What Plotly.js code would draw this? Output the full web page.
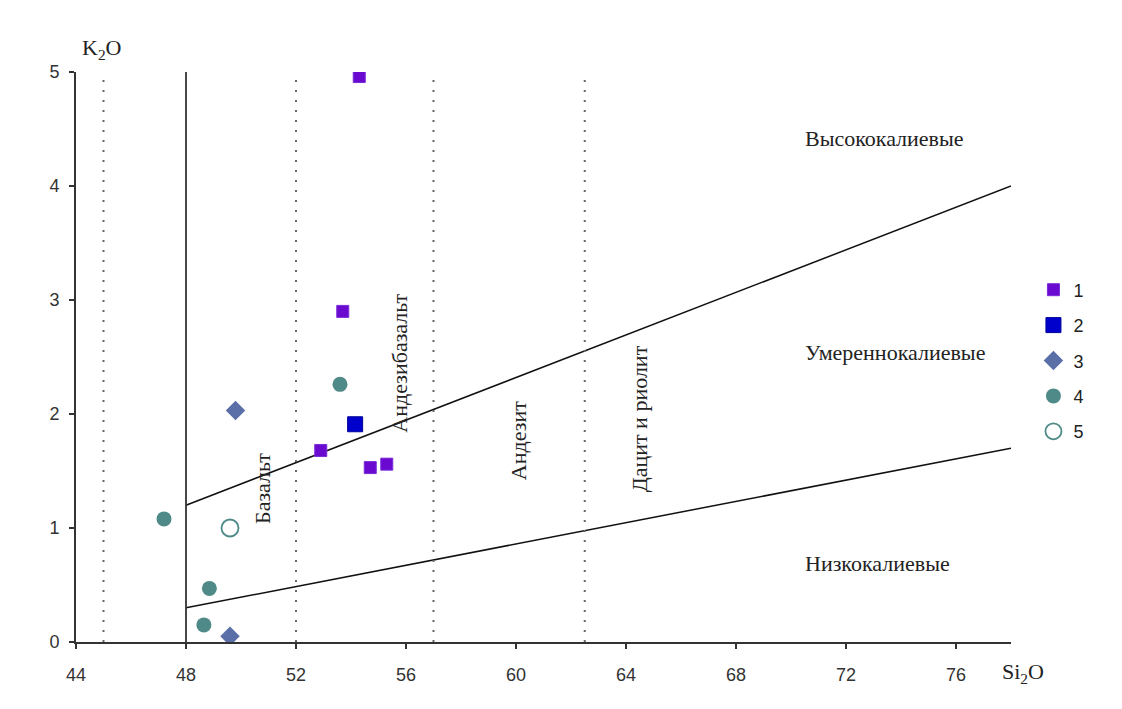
<!DOCTYPE html>
<html>
<head>
<meta charset="utf-8">
<script src="https://cdn.plot.ly/plotly-3.0.1.min.js"></script>
<style>html,body{margin:0;padding:0;background:#fff;}#chart{width:1122px;height:709px;}</style>
</head>
<body>
<div id="chart"></div>
<script>
// Series data (SiO2, K2O)
const s1x = [54.3, 53.7, 52.9, 54.7, 55.3];
const s1y = [4.96, 2.9, 1.68, 1.53, 1.56];
const s2x = [54.15];
const s2y = [1.91];
const s3x = [49.8, 49.6];
const s3y = [2.03, 0.05];
const s4x = [53.6, 47.2, 48.85, 48.65];
const s4y = [2.26, 1.08, 0.47, 0.15];
const s5x = [49.6];
const s5y = [1.0];
const seriesNames = ['1', '2', '3', '4', '5'];

// Field boundaries
const upperLineX = [48, 78];
const upperLineY = [1.2, 4.0];
const lowerLineX = [48, 78];
const lowerLineY = [0.3, 1.7];
const basaltLimit = 48;
const dottedLimits = [45, 52, 57, 62.5];
const yTop = 5;

const xTicks = [44, 48, 52, 56, 60, 64, 68, 72, 76];
const yTicks = [0, 1, 2, 3, 4, 5];

const serif = 'Liberation Serif, Times New Roman, serif';
const sans = 'Liberation Sans, Arial, sans-serif';

const traces = [];
traces.push({x: upperLineX, y: upperLineY, mode: 'lines', line: {color: '#111', width: 1.5}, showlegend: false, hoverinfo: 'skip'});
traces.push({x: lowerLineX, y: lowerLineY, mode: 'lines', line: {color: '#111', width: 1.5}, showlegend: false, hoverinfo: 'skip'});
traces.push({x: [basaltLimit, basaltLimit], y: [0, yTop], mode: 'lines', line: {color: '#333', width: 1.8}, showlegend: false, hoverinfo: 'skip'});
dottedLimits.forEach(v => {
  traces.push({x: [v, v], y: [0, yTop], mode: 'lines', line: {color: '#666', width: 2, dash: '2px,8px'}, showlegend: false, hoverinfo: 'skip'});
});

traces.push({x: s1x, y: s1y, name: seriesNames[0], mode: 'markers', legendgroup: 'g1',
  marker: {symbol: 'square', size: 12, color: '#6A0AD0', line: {color: '#7B2BD8', width: 1}}});
traces.push({x: s2x, y: s2y, name: seriesNames[1], mode: 'markers', legendgroup: 'g2',
  marker: {symbol: 'square', size: 15, color: '#0000CC', line: {color: '#00009A', width: 1}}});
traces.push({x: s3x, y: s3y, name: seriesNames[2], mode: 'markers', legendgroup: 'g3',
  marker: {symbol: 'diamond', size: 15, color: '#5A6EA8'}});
traces.push({x: s4x, y: s4y, name: seriesNames[3], mode: 'markers', legendgroup: 'g4',
  marker: {symbol: 'circle', size: 15, color: '#4F8A88'}});
traces.push({x: s5x, y: s5y, name: seriesNames[4], mode: 'markers', legendgroup: 'g5',
  marker: {symbol: 'circle-open', size: 17, color: '#4F8A88', line: {width: 1.8, color: '#4F8A88'}}});

const ann = (text, x, y, angle, xanchor) => ({text, x, y, xref: 'x', yref: 'y', showarrow: false,
  xanchor: xanchor || 'center', textangle: angle || 0, font: {family: serif, size: 22, color: '#222'}});

const layout = {
  width: 1122, height: 709,
  margin: {l: 76, r: 111, t: 72, b: 67},
  paper_bgcolor: '#ffffff', plot_bgcolor: '#ffffff',
  xaxis: {range: [44, 78], tickvals: xTicks, ticktext: xTicks.map(String), showgrid: false, zeroline: false,
    showline: true, linecolor: '#333', linewidth: 2, ticks: 'outside', ticklen: 5, tickwidth: 2, tickcolor: '#333',
    ticklabelstandoff: 10,
    tickfont: {family: sans, size: 18, color: '#333'}},
  yaxis: {range: [0, 5], tickvals: yTicks, showgrid: false, zeroline: false,
    showline: true, linecolor: '#333', linewidth: 2, ticks: 'outside', ticklen: 5, tickwidth: 2, tickcolor: '#333',
    ticklabelstandoff: 6,
    tickfont: {family: sans, size: 18, color: '#333'}},
  showlegend: true,
  legend: {x: 1.024, y: 0.65, xanchor: 'left', yanchor: 'top', font: {family: sans, size: 18, color: '#222'},
    tracegroupgap: 9, bgcolor: 'rgba(0,0,0,0)'},
  annotations: [
    {text: 'K<sub>2</sub>O', x: 0.004, y: 1.04, xref: 'paper', yref: 'paper', xanchor: 'left', yanchor: 'middle', showarrow: false,
      font: {family: serif, size: 22, color: '#222'}},
    {text: 'Si<sub>2</sub>O', x: 0.988, y: -0.054, xref: 'paper', yref: 'paper', xanchor: 'left', yanchor: 'middle', showarrow: false,
      font: {family: serif, size: 22, color: '#222'}},
    ann('Высококалиевые', 70.44, 4.42, 0, 'left'),
    ann('Умереннокалиевые', 70.44, 2.54, 0, 'left'),
    ann('Низкокалиевые', 70.44, 0.69, 0, 'left'),
    ann('Базальт', 50.76, 1.35, -90),
    ann('Андезибазальт', 55.78, 2.45, -90),
    ann('Андезит', 60.07, 1.77, -90),
    ann('Дацит и риолит', 64.5, 1.96, -90)
  ]
};

Plotly.newPlot('chart', traces, layout, {displayModeBar: false, staticPlot: true});
</script>
</body>
</html>
